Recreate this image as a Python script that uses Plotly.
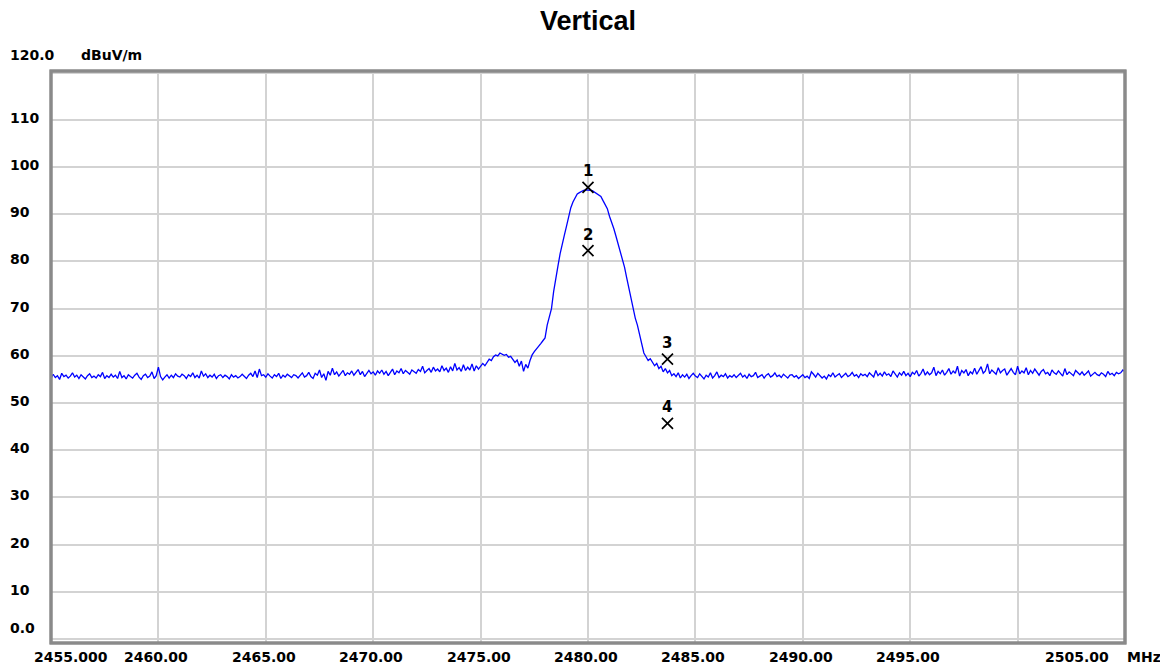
import plotly.graph_objects as go

# ---------------- data ----------------
freq_start = 2455.0
freq_step = 0.1  # MHz per sample
level_dbuv = [
    # 2455
    55.2, 56.1, 55.4, 55.8, 55.0, 56.3, 55.6, 55.9, 55.3, 55.7,
    # 2456
    56.4, 55.5, 55.9, 55.2, 56.0, 55.6, 55.1, 55.8, 56.2, 55.4,
    # 2457
    55.7, 55.3, 56.0, 55.6, 56.5, 55.2, 55.8, 55.4, 56.1, 55.5,
    # 2458
    55.9, 55.2, 56.7, 55.4, 55.8, 55.1, 56.0, 55.6, 55.3, 55.9,
    # 2459
    56.3, 55.5, 55.0, 55.8, 56.1, 55.4, 55.7, 56.6, 55.2, 55.8,
    # 2460
    57.6, 55.6, 54.9, 55.5, 56.0, 55.3, 55.9, 55.4, 56.2, 55.7,
    # 2461
    55.5, 56.1, 55.8, 55.2, 56.0, 55.6, 56.4, 55.4, 55.9, 55.3,
    # 2462
    56.8, 55.7, 56.2, 55.4, 55.9, 55.5, 56.1, 55.2, 55.8, 56.0,
    # 2463
    55.4, 55.9, 55.6, 55.1, 56.0, 55.5, 55.8, 55.3, 55.6, 56.1,
    # 2464
    55.7, 55.2, 55.9, 56.3, 55.6, 56.8, 55.4, 57.2, 55.8, 56.0,
    # 2465
    55.5, 56.2, 55.7, 55.3, 56.0, 55.6, 56.3, 55.2, 55.9, 55.5,
    # 2466
    56.1, 55.7, 55.4, 56.0, 55.8, 55.3, 55.9, 56.4, 55.5, 55.8,
    # 2467
    56.5, 55.6, 55.2, 56.3, 55.9, 57.0, 55.4, 56.2, 54.8, 56.7,
    # 2468
    55.9, 57.4, 56.0, 56.6, 55.7, 56.3, 56.9, 55.8, 56.4, 56.1,
    # 2469
    56.8, 55.9, 56.5, 57.1, 56.0, 56.7, 55.6, 56.4, 56.9, 56.2,
    # 2470
    56.6, 55.9, 56.8, 56.3, 57.0, 56.1, 56.7, 55.8, 56.5, 57.2,
    # 2471
    56.0, 56.8, 56.4, 57.3, 56.2, 56.9, 56.5, 56.1, 57.0, 56.6,
    # 2472
    56.3, 57.1, 56.7, 57.8, 56.4, 56.9, 57.3, 56.5, 57.6, 56.8,
    # 2473
    57.2, 56.6, 57.9, 56.9, 57.4, 56.5, 57.7, 56.8, 58.4, 57.0,
    # 2474
    57.5, 56.7, 58.1, 56.9, 57.6, 57.0, 58.3, 56.8, 57.9, 57.2,
    # 2475
    57.8, 58.4, 57.9, 58.7, 59.3, 59.0, 59.8, 60.2, 60.0, 60.6,
    # 2476
    60.4, 60.1, 60.3, 59.7, 59.9, 59.2, 58.6, 59.1, 57.8, 58.9,
    # 2477
    56.7, 58.2, 57.4, 59.0, 60.2, 60.9, 61.4, 62.1, 62.6, 63.2,
    # 2478
    63.8, 66.5, 68.6, 70.0, 73.6, 76.8, 79.0, 81.6, 84.0, 85.6,
    # 2479
    87.5, 89.8, 91.4, 92.6, 93.6, 94.3, 94.6, 94.9, 95.1, 95.2,
    # 2480
    95.2, 95.1, 95.0, 94.7, 94.4, 94.1, 93.8, 92.9, 91.9, 91.2,
    # 2481
    89.6, 88.4, 87.0, 85.4, 83.8, 82.4, 80.6, 78.8, 76.6, 74.3,
    # 2482
    72.4, 70.1, 68.0, 66.5, 64.6, 62.2, 60.6, 59.8, 59.0, 59.4,
    # 2483
    58.5, 57.9, 58.4, 57.3, 57.8, 56.6, 57.3, 56.4, 56.9, 55.8,
    # 2484
    56.2, 55.6, 56.4, 55.3, 56.0, 55.5, 56.1, 55.2, 55.8, 56.3,
    # 2485
    55.7, 55.4, 56.2, 55.6, 55.1, 55.9, 55.5, 56.4, 55.3, 55.8,
    # 2486
    56.6, 55.4, 55.9, 55.6, 56.2, 55.3, 55.8, 55.5, 56.0, 55.4,
    # 2487
    55.8, 56.3, 55.5, 55.9, 55.2, 56.1, 55.6, 55.8, 56.5, 55.4,
    # 2488
    55.7, 56.0, 55.3, 55.9, 56.2, 55.5, 55.8, 56.4, 55.6, 55.9,
    # 2489
    55.4, 56.1, 55.7, 55.3, 55.9, 56.0, 55.5, 55.8, 55.2, 55.6,
    # 2490
    56.0, 55.4, 55.7, 55.2, 56.6, 56.1, 55.5, 56.3, 55.8, 55.3,
    # 2491
    55.7, 55.1, 56.0, 55.6, 56.4, 55.5, 55.9, 56.2, 55.4, 55.8,
    # 2492
    56.3, 55.6, 55.9, 56.5, 55.7, 56.0, 55.4, 56.2, 55.8, 56.1,
    # 2493
    55.6, 56.4, 56.0, 55.5, 56.9, 55.8, 56.3, 55.7, 56.6, 55.9,
    # 2494
    56.2, 55.6, 56.8, 56.0, 55.5, 56.4, 55.9, 56.7, 55.8, 56.3,
    # 2495
    55.6, 56.5, 56.1, 56.9, 55.7, 56.3, 57.2, 55.9, 56.6, 56.0,
    # 2496
    56.4, 57.6, 55.8, 56.7, 56.2, 57.0, 55.9, 56.5, 57.3, 56.1,
    # 2497
    56.8, 56.3, 57.8, 55.7, 56.9, 56.4, 57.1, 55.8, 56.6, 56.2,
    # 2498
    57.4, 56.1, 56.9, 57.7, 56.3, 56.8, 58.3, 56.2, 57.0, 56.5,
    # 2499
    56.1, 57.5, 56.4, 56.9, 57.2, 55.9, 56.7, 57.3, 56.5, 56.0,
    # 2500
    57.8, 56.2, 56.8, 56.4, 57.5, 56.0, 56.9, 56.3, 57.2, 56.6,
    # 2501
    55.9, 56.7, 57.1, 56.2, 56.5, 55.8, 57.0, 56.4, 56.1, 56.8,
    # 2502
    56.3, 55.7, 57.3, 56.0, 56.6, 56.2, 55.8, 56.9, 56.4, 56.0,
    # 2503
    56.6, 55.9, 56.3, 56.8, 55.7, 56.2, 56.5, 56.0, 55.8, 56.4,
    # 2504
    56.1, 55.6, 56.7, 56.0, 56.3, 55.8, 56.5, 56.2, 56.4, 57.0,
    # 2505
    56.6,
]
freq_mhz = [round(freq_start + i * freq_step, 1) for i in range(len(level_dbuv))]

limit_red = 74.0     # peak limit
limit_green = 54.0   # average limit

marker_freq = [2480.0, 2480.0, 2483.7, 2483.7]
marker_level = [95.7, 82.3, 59.3, 45.7]
marker_labels = ["1", "2", "3", "4"]

x_tick_vals = [2455, 2460, 2465, 2470, 2475, 2480, 2485, 2490, 2495, 2500, 2505]
x_tick_text = ["2455.000", "2460.00", "2465.00", "2470.00", "2475.00", "2480.00",
               "2485.00", "2490.00", "2495.00", "", "2505.00"]
y_tick_vals = [0, 10, 20, 30, 40, 50, 60, 70, 80, 90, 100, 110, 120]
y_tick_text = ["0.0", "10", "20", "30", "40", "50", "60", "70", "80", "90", "100", "110", "120.0"]

title_text = "Vertical"
y_unit = "dBuV/m"
x_unit = "MHz"

# ---------------- figure ----------------
# the page body has an 8px margin, so the figure is 8px smaller and left/top offsets shrink by 8
TICK_FONT = dict(family="DejaVu Sans", size=14, color="black")
GRID = "#d3d3d3"
FIG_W, FIG_H = 1160, 661

fig = go.Figure()

fig.add_trace(go.Scatter(
    x=freq_mhz, y=level_dbuv, mode="lines",
    line=dict(color="#0000ff", width=1.3), hoverinfo="skip", showlegend=False,
))

fig.add_hline(y=limit_red, line=dict(color="#ff0000", width=2.5), layer="above")
fig.add_hline(y=limit_green, line=dict(color="#00ee00", width=3), layer="above")

fig.add_trace(go.Scatter(
    x=marker_freq, y=marker_level, mode="markers",
    marker=dict(symbol="x-thin", size=11, line=dict(color="black", width=1.7)),
    hoverinfo="skip", showlegend=False,
))

annotations = []
for fx, lv, lab in zip(marker_freq, marker_level, marker_labels):
    annotations.append(dict(x=fx, y=lv, xref="x", yref="y", text=f"<b>{lab}</b>",
                            showarrow=False, yshift=16, xanchor="center", yanchor="middle",
                            font=dict(family="DejaVu Sans", size=15, color="black")))

# y tick labels (left aligned, like the analyzer print-out)
for i, (v, t) in enumerate(zip(y_tick_vals, y_tick_text)):
    shift = 2
    if i == 0:
        shift = 11
    elif i == len(y_tick_vals) - 1:
        shift = 18
    annotations.append(dict(x=0, y=v, xref="paper", yref="y", text=f"<b>{t}</b>",
                            showarrow=False, xanchor="left", yanchor="middle",
                            xshift=-43, yshift=shift, font=TICK_FONT))

annotations.append(dict(x=0, y=y_tick_vals[-1], xref="paper", yref="y",
                        text=f"<b>{y_unit}</b>", showarrow=False, xanchor="left",
                        yanchor="middle", xshift=28, yshift=18, font=TICK_FONT))

# x tick labels
for i, (v, t) in enumerate(zip(x_tick_vals, x_tick_text)):
    if not t:
        continue
    xs = -2
    if i == 0:
        xs = 20
    elif i == len(x_tick_vals) - 1:
        xs = -48
    annotations.append(dict(x=v, y=0, xref="x", yref="paper", text=f"<b>{t}</b>",
                            showarrow=False, xanchor="center", yanchor="middle",
                            xshift=xs, yshift=-14, font=TICK_FONT))

annotations.append(dict(x=1, y=0, xref="paper", yref="paper", text=f"<b>{x_unit}</b>",
                        showarrow=False, xanchor="left", yanchor="middle",
                        xshift=0, yshift=-14, font=TICK_FONT))

# title as an annotation centred over the plot
annotations.append(dict(x=0.5, y=1, xref="paper", yref="paper", text=f"<b>{title_text}</b>",
                        showarrow=False, xanchor="center", yanchor="middle",
                        xshift=0, yshift=50,
                        font=dict(family="Liberation Sans", size=27, color="black")))

fig.update_layout(
    width=FIG_W, height=FIG_H,
    margin=dict(l=43, r=43, t=63, b=26),
    paper_bgcolor="white", plot_bgcolor="white",
    xaxis=dict(range=[2455, 2505], tickvals=x_tick_vals, showticklabels=False,
               showgrid=True, gridcolor=GRID, gridwidth=1.5, zeroline=False,
               showline=False, ticks=""),
    yaxis=dict(range=[-0.87, 120.38], tickvals=y_tick_vals, showticklabels=False,
               showgrid=True, gridcolor=GRID, gridwidth=1.5, zeroline=False,
               showline=False, ticks=""),
    annotations=annotations,
    shapes=[dict(type="rect", xref="paper", yref="paper", x0=0, x1=1, y0=0, y1=1,
                 line=dict(color="#8a8a8a", width=3), layer="above")],
)

fig.write_html("out.html")
